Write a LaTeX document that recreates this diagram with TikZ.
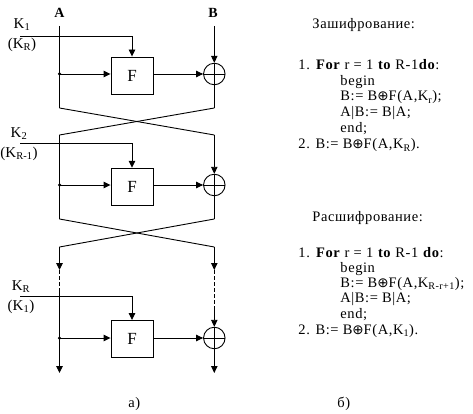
\documentclass[tikz,border=0pt]{standalone}
\usepackage{fontspec}
\setmainfont{Liberation Serif}
\newfontfamily\symfont{DejaVu Sans}
\newcommand{\xorsym}{{\symfont\fontsize{13.5}{13.5}\selectfont ⊕}}
\usetikzlibrary{arrows.meta, positioning}

\begin{document}
\begin{tikzpicture}[x=1pt, y=-1pt,
  line width=0.9pt,
  every node/.style={font=\fontsize{15}{17}\selectfont, inner sep=0pt},
  fbox/.style={draw, minimum width=42pt, minimum height=37pt, font=\fontsize{17}{17}\selectfont},
  xorc/.style={draw, circle, minimum size=21.5pt,
               path picture={\draw[line width=0.7pt]
                 (path picture bounding box.north) -- (path picture bounding box.south)
                 (path picture bounding box.west) -- (path picture bounding box.east);}},
  dot/.style={circle, fill, minimum size=3.5pt},
  keylbl/.style={align=center},
  arr/.style={-{Triangle[length=7pt, width=6.5pt]}},
  dsh/.style={dash pattern=on 4pt off 2pt},
  txt/.style={anchor=base west, font=\fontsize{14.5}{16}\selectfont\addfontfeatures{LetterSpace=4}}
]
  \useasboundingbox (0,0) rectangle (473,414);

  % scheme a)
  \node[font=\fontsize{14}{14}\selectfont\bfseries] (lblA) at (59.5,12.5) {A};
  \node[font=\fontsize{14}{14}\selectfont\bfseries] (lblB) at (213,12.5) {B};
  \coordinate (a0) at (59.5,26);
  \coordinate (b0) at (214.3,26);

  % round 1
  \node[keylbl] (key1) at (22,35) {K\textsubscript{1}\\[3pt](K\textsubscript{R})};
  \coordinate (k1) at (20,36.7);
  \node[dot]  (d1) at (59.5,74) {};
  \node[fbox] (f1) at (132,75.5) {F};
  \node[xorc] (x1) at (214.3,74) {};
  \coordinate (a1) at (59.5,108);
  \coordinate (b1) at (214.3,108);

  \draw (a0) -- (d1.center) -- (a1);
  \draw[arr] (d1.center) -- (f1.west |- d1);
  \draw[arr] (k1) -| (f1.north);
  \draw[arr] (f1.east |- x1) -- (x1.west);
  \draw[arr] (b0) -- (x1.north);
  \draw (x1.south) -- (b1);

  % round 2
  \coordinate (a2) at (59.5,135);
  \coordinate (b2) at (214.3,135);
  \draw (a1) -- (b2);
  \draw (b1) -- (a2);

  \node[keylbl] (key2) at (19,144) {K\textsubscript{2}\\[3pt](K\textsubscript{R-1})};
  \coordinate (k2) at (20,143);
  \node[dot]  (d2) at (59.5,185) {};
  \node[fbox] (f2) at (132,186.7) {F};
  \node[xorc] (x2) at (214.3,185) {};
  \coordinate (a2e) at (59.5,219);
  \coordinate (b2e) at (214.3,219);

  \draw (a2) -- (d2.center) -- (a2e);
  \draw[arr] (d2.center) -- (f2.west |- d2);
  \draw[arr] (k2) -| (f2.north);
  \draw[arr] (f2.east |- x2) -- (x2.west);
  \draw[arr] (b2) -- (x2.north);
  \draw (x2.south) -- (b2e);

  % round R
  \coordinate (a3) at (59.5,247);
  \coordinate (b3) at (214.3,247);
  \draw (a2e) -- (b3);
  \draw (b2e) -- (a3);

  \coordinate (am) at (59.5,270);
  \coordinate (ad) at (59.5,290);
  \coordinate (bm) at (214.3,270);
  \coordinate (bd) at (214.3,310);
  \node[keylbl] (key3) at (21,297) {K\textsubscript{R}\\[3pt](K\textsubscript{1})};
  \coordinate (k3) at (20,296.7);
  \node[dot]  (d3) at (59.5,338) {};
  \node[fbox] (f3) at (132,339) {F};
  \node[xorc] (x3) at (214.3,338) {};
  \coordinate (ae) at (59.5,373);
  \coordinate (be) at (214.3,373);

  \draw[arr] (a3) -- (am);
  \draw[dsh] (am) -- (ad);
  \draw (ad) -- (d3.center);
  \draw[arr] (d3.center) -- (ae);
  \draw[arr] (b3) -- (bm);
  \draw[dsh] (bm) -- (bd);
  \draw[arr] (bd) -- (x3.north);
  \draw[arr] (d3.center) -- (f3.west |- d3);
  \draw[arr] (k3) -| (f3.north);
  \draw[arr] (f3.east |- x3) -- (x3.west);
  \draw[arr] (x3.south) -- (be);

  \node[txt] (capa) at (128,407) {а)};

  % scheme b)
  \node[txt] (enc)  at (312,29) {Зашифрование:};
  \node[txt] (enc1) at (298,70) {1. \textbf{For} r = 1 \textbf{to} R-1\textbf{do}:};
  \node[txt] (enc2) at (340,85.5) {begin};
  \node[txt] (enc3) at (340,101) {B:= B\xorsym F(A,K\textsubscript{r});};
  \node[txt] (enc4) at (340,116.5) {A|B:= B|A;};
  \node[txt] (enc5) at (340,132.5) {end;};
  \node[txt] (enc6) at (298,149) {2. B:= B\xorsym F(A,K\textsubscript{R}).};

  \node[txt] (dec)  at (312,221) {Расшифрование:};
  \node[txt] (dec1) at (298,257.5) {1. \textbf{For} r = 1 \textbf{to} R-1 \textbf{do}:};
  \node[txt] (dec2) at (340,272.5) {begin};
  \node[txt] (dec3) at (340,287.5) {B:= B\xorsym F(A,K\textsubscript{R-r+1});};
  \node[txt] (dec4) at (340,302.5) {A|B:= B|A;};
  \node[txt] (dec5) at (340,318) {end;};
  \node[txt] (dec6) at (298,334) {2. B:= B\xorsym F(A,K\textsubscript{1}).};

  \node[txt] (capb) at (337,407) {б)};
\end{tikzpicture}
\end{document}
